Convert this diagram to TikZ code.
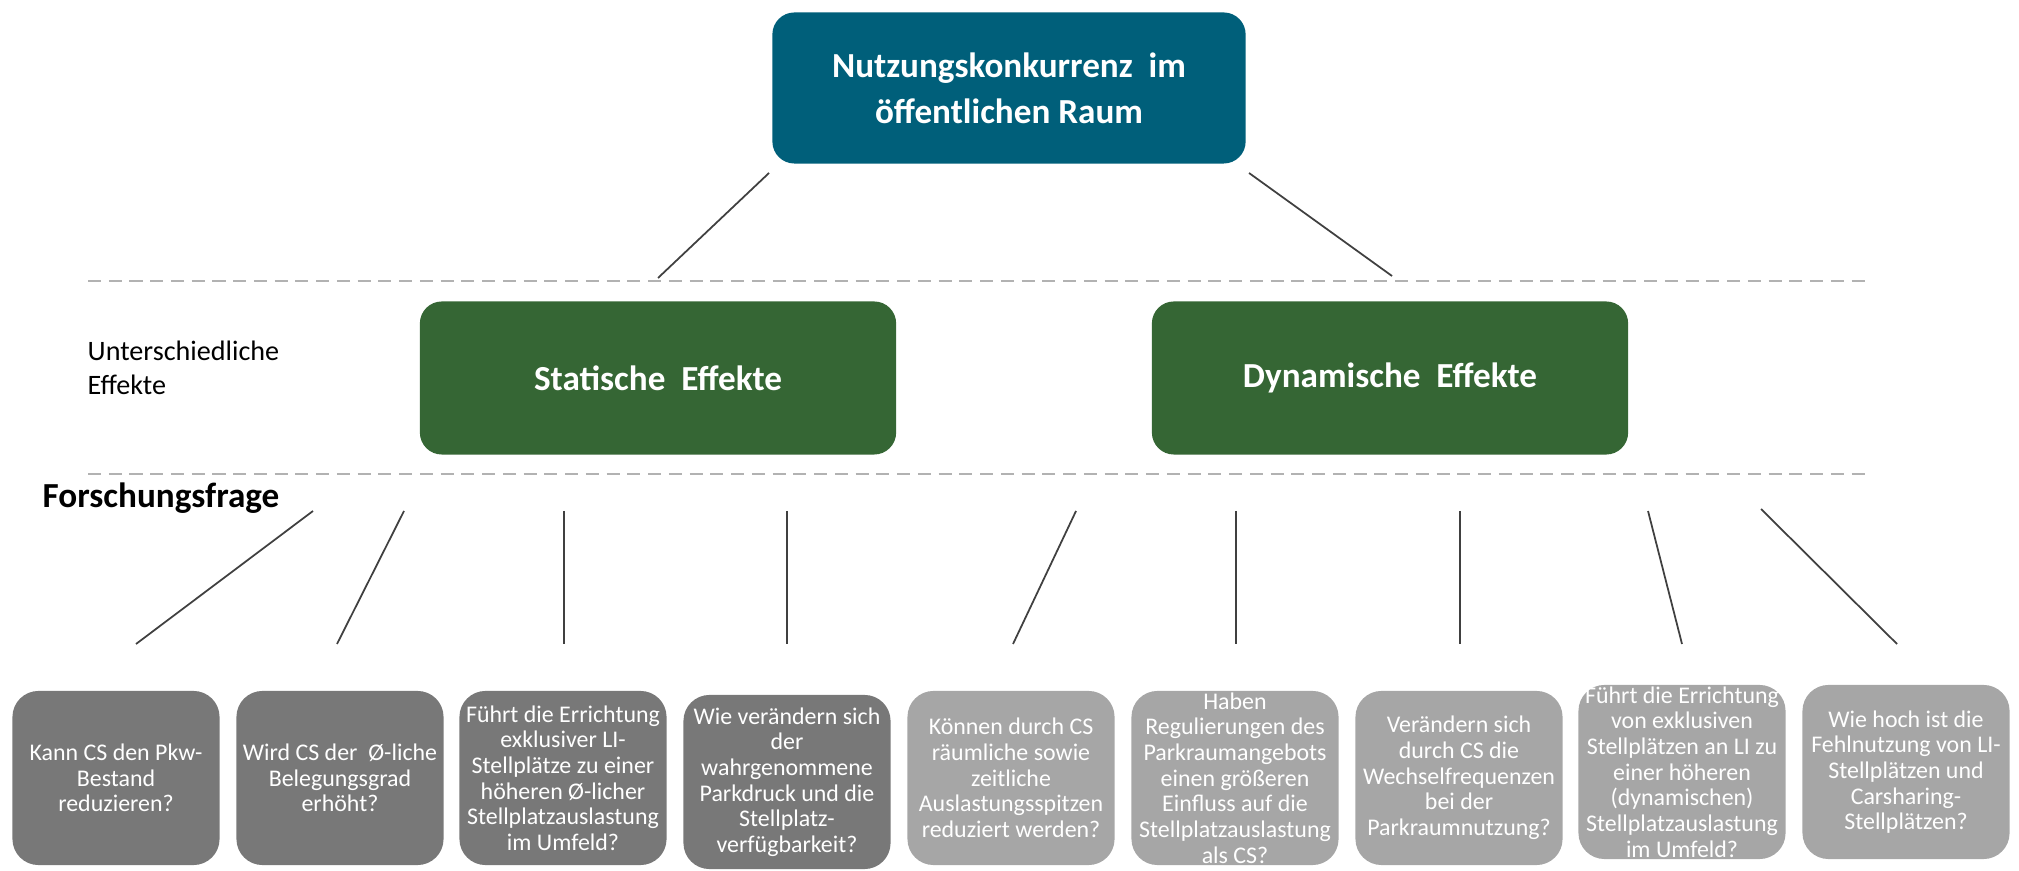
\documentclass[tikz,border=0pt]{standalone}
\usepackage{fontspec}
\setmainfont{Carlito}
\definecolor{raumblue}{HTML}{005F7A}
\definecolor{effgreen}{HTML}{356634}
\definecolor{qdark}{HTML}{787878}
\definecolor{qlightgray}{HTML}{A6A6A6}
\begin{document}
\begin{tikzpicture}[x=0.01cm,y=-0.01cm,
    topbox/.style={fill=raumblue,rounded corners=0.22cm,minimum width=4.73cm,minimum height=1.51cm,text=white,align=center,font=\fontsize{10}{13}\selectfont\bfseries},
    effbox/.style={fill=effgreen,rounded corners=0.22cm,minimum width=4.76cm,minimum height=1.53cm,text=white,font=\fontsize{10}{12}\selectfont\bfseries},
    qbox/.style={fill=qdark,rounded corners=0.26cm,minimum width=2.07cm,minimum height=1.74cm,inner sep=0pt,text=white,align=center,font=\fontsize{6.8}{7.3}\selectfont},
    qboxlight/.style={qbox,fill=qlightgray},
    sep/.style={gray!60,line width=0.6pt,dash pattern=on 3.7pt off 2.2pt},
    link/.style={black!75,line width=0.5pt}]
      \useasboundingbox (0,0) rectangle (2019,871);

      \node[topbox] (Raum) at (1009,88){Nutzungskonkurrenz\ \ im\\öffentlichen Raum};

      \coordinate (S1) at (88,281);
      \coordinate (S2) at (1865,281);
      \coordinate (S3) at (88,474);
      \coordinate (S4) at (1865,474);
      \draw[sep] (S1) -- (S2);
      \draw[sep] (S3) -- (S4);

      \node[effbox] (Stat) at (658,378){Statische\ \ Effekte};
      \node[effbox] (Dyn) at (1390,378){Dynamische\ \ Effekte};

      \node[anchor=west,align=left,inner sep=0pt,font=\fontsize{8}{9.6}\selectfont] (Eff) at (87,368){Unterschiedliche\\Effekte};
      \node[anchor=west,inner sep=0pt,font=\fontsize{10}{12}\selectfont\bfseries] (FF) at (42,498){Forschungsfrage};

      \coordinate (T1a) at (769,173);
      \coordinate (T1b) at (658,278);
      \coordinate (T2a) at (1249,173);
      \coordinate (T2b) at (1392,276);
      \draw[link] (T1a) -- (T1b);
      \draw[link] (T2a) -- (T2b);

      \coordinate (L1a) at (313,511);
      \coordinate (L1b) at (136,644);
      \coordinate (L2a) at (404,511);
      \coordinate (L2b) at (337,644);
      \coordinate (L3a) at (564,511);
      \coordinate (L3b) at (564,644);
      \coordinate (L4a) at (787,511);
      \coordinate (L4b) at (787,644);
      \coordinate (L5a) at (1076,511);
      \coordinate (L5b) at (1013,644);
      \coordinate (L6a) at (1236,511);
      \coordinate (L6b) at (1236,644);
      \coordinate (L7a) at (1460,511);
      \coordinate (L7b) at (1460,644);
      \coordinate (L8a) at (1648,511);
      \coordinate (L8b) at (1682,644);
      \coordinate (L9a) at (1761,509);
      \coordinate (L9b) at (1897,644);
      \draw[link] (L1a) -- (L1b);
      \draw[link] (L2a) -- (L2b);
      \draw[link] (L3a) -- (L3b);
      \draw[link] (L4a) -- (L4b);
      \draw[link] (L5a) -- (L5b);
      \draw[link] (L6a) -- (L6b);
      \draw[link] (L7a) -- (L7b);
      \draw[link] (L8a) -- (L8b);
      \draw[link] (L9a) -- (L9b);

      \node[qbox] (Q1) at (116,778){Kann CS den Pkw-\\Bestand\\reduzieren?};
      \node[qbox] (Q2) at (340,778){Wird CS der\ \ Ø-liche\\Belegungsgrad\\erhöht?};
      \node[qbox] (Q3) at (563,778){Führt die Errichtung\\exklusiver LI-\\Stellplätze zu einer\\höheren Ø-licher\\Stellplatzauslastung\\im Umfeld?};
      \node[qbox] (Q4) at (787,782){Wie verändern sich\\der\\wahrgenommene\\Parkdruck und die\\Stellplatz-\\verfügbarkeit?};
      \node[qboxlight] (Q5) at (1011,778){Können durch CS\\räumliche sowie\\zeitliche\\Auslastungsspitzen\\reduziert werden?};
      \node[qboxlight] (Q6) at (1235,778){Haben\\Regulierungen des\\Parkraumangebots\\einen größeren\\Einfluss auf die\\Stellplatzauslastung\\als CS?};
      \node[qboxlight] (Q7) at (1459,778){Verändern sich\\durch CS die\\Wechselfrequenzen\\bei der\\Parkraumnutzung?};
      \node[qboxlight] (Q8) at (1682,772){Führt die Errichtung\\von exklusiven\\Stellplätzen an LI zu\\einer höheren\\(dynamischen)\\Stellplatzauslastung\\im Umfeld?};
      \node[qboxlight] (Q9) at (1906,772){Wie hoch ist die\\Fehlnutzung von LI-\\Stellplätzen und\\Carsharing-\\Stellplätzen?};
    \end{tikzpicture}
\end{document}
